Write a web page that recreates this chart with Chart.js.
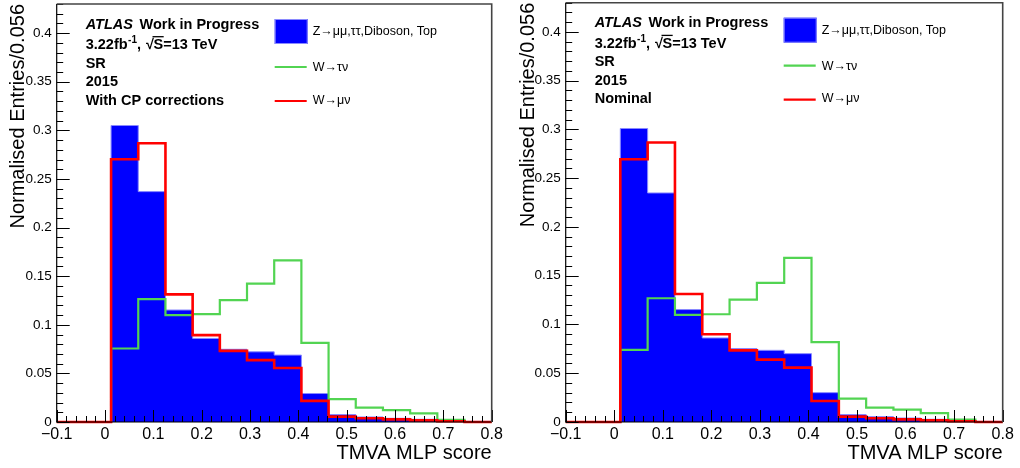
<!DOCTYPE html>
<html><head><meta charset="utf-8">
<script src="https://cdn.jsdelivr.net/npm/chart.js@4.4.1/dist/chart.umd.min.js"></script>
<style>
html,body{margin:0;padding:0;background:#fff;}
#wrap{position:relative;width:1020px;height:468px;overflow:hidden;background:#fff}
.pane{position:absolute;top:0;width:510px;height:468px}
canvas{display:block}
</style></head><body>
<div id="wrap">
  <div class="pane" style="left:0"><canvas id="c1" width="510" height="468"></canvas></div>
  <div class="pane" style="left:510px"><canvas id="c2" width="510" height="468"></canvas></div>
</div>
<script>
// ---------- data ----------
const binEdges = [-0.1,-0.04375,0.0125,0.06875,0.125,0.18125,0.2375,0.29375,0.35,0.40625,0.4625,0.51875,0.575,0.63125,0.6875,0.74375,0.8];
const xTickValues = [-0.1,0,0.1,0.2,0.3,0.4,0.5,0.6,0.7,0.8];
const xTickLabels = ['\u22120.1','0','0.1','0.2','0.3','0.4','0.5','0.6','0.7','0.8'];
const yTickValues = [0,0.05,0.1,0.15,0.2,0.25,0.3,0.35,0.4];
const yTickLabels = ['0','0.05','0.1','0.15','0.2','0.25','0.3','0.35','0.4'];
const seriesLabels = ['Z\u2192\u03bc\u03bc,\u03c4\u03c4,Diboson, Top','W\u2192\u03c4\u03bd','W\u2192\u03bc\u03bd'];

// left panel: With CP corrections
const bkgCP    = [0,0,0.305,0.2370,0.1152,0.0860,0.0748,0.0722,0.0688,0.0293,0.0077,0.0052,0.0038,0.0028,0.0016,0.0006];
const wtaunuCP = [0,0,0.0756,0.1265,0.1100,0.1110,0.1254,0.1423,0.1663,0.0814,0.0236,0.0147,0.0123,0.0089,0.0023,0];
const wmunuCP  = [0,0,0.2703,0.2868,0.1313,0.0894,0.0732,0.0636,0.0556,0.0217,0.0055,0.0038,0.0027,0.0017,0.0007,0];

// right panel: Nominal
const bkgNom    = [0,0,0.3010,0.2349,0.1153,0.0862,0.0753,0.0735,0.0701,0.0301,0.0076,0.0055,0.0041,0.0028,0.0015,0.0006];
const wtaunuNom = [0,0,0.0739,0.1269,0.1098,0.1105,0.1255,0.1427,0.1683,0.0820,0.0240,0.0147,0.0127,0.0092,0.0025,0];
const wmunuNom  = [0,0,0.2695,0.2866,0.1313,0.0900,0.0735,0.0640,0.0558,0.0216,0.0055,0.0038,0.0027,0.0017,0.0007,0];

// ---------- helpers ----------
const FAM = '"Liberation Sans", Arial, Helvetica, sans-serif';
Chart.defaults.font.family = FAM;
function toSteps(vals){
  return binEdges.map((e,i)=>({x:e, y: vals[Math.min(i, vals.length-1)]}));
}

const rootFrame = {
  id:'rootFrame',
  afterDatasetsDraw(chart){
    const {ctx, chartArea:a, scales:{x,y}} = chart;
    ctx.save();
    ctx.strokeStyle = '#000';
    ctx.lineWidth = 1;
    ctx.beginPath();
    for (let i=0;i<=45;i++){
      const v = -0.1 + i*0.02;
      const px = Math.round(x.getPixelForValue(v)) + 0.5;
      const len = (i%5===0) ? 12 : 6;
      ctx.moveTo(px, a.bottom); ctx.lineTo(px, a.bottom - len);
    }
    for (let i=0;i<=43;i++){
      const v = i*0.01;
      const py = Math.round(y.getPixelForValue(v)) + 0.5;
      const len = (i%5===0) ? 13 : 6.5;
      ctx.moveTo(a.left, py); ctx.lineTo(a.left + len, py);
    }
    ctx.stroke();
    ctx.lineWidth = 1.2;
    ctx.beginPath();
    ctx.moveTo(a.left, a.top); ctx.lineTo(a.left, a.bottom);
    ctx.moveTo(a.left, a.bottom); ctx.lineTo(a.right, a.bottom);
    ctx.stroke();
    ctx.strokeStyle = '#444';
    ctx.lineWidth = 1.6;
    ctx.beginPath();
    ctx.moveTo(a.left, a.top); ctx.lineTo(a.right, a.top); ctx.lineTo(a.right, a.bottom);
    ctx.stroke();
    ctx.restore();
  }
};

const rootText = {
  id:'rootText',
  afterDraw(chart, args, opts){
    const {ctx, chartArea:a} = chart;
    const ds = chart.data.datasets;
    const x0 = a.left + 29;
    const t = a.top;
    ctx.save();
    ctx.fillStyle = '#000';
    ctx.textBaseline = 'alphabetic';
    ctx.textAlign = 'left';
    const B = 'bold 14.5px ' + FAM;
    ctx.font = 'italic bold 14.5px ' + FAM;
    ctx.fillText('ATLAS', x0, t + 24.5);
    let w = ctx.measureText('ATLAS').width;
    ctx.font = B;
    ctx.fillText('Work in Progress', x0 + w + 6.5, t + 24.5);
    let yb = t + 45;
    let cx = x0;
    ctx.font = B; ctx.fillText('3.22fb', cx, yb); cx += ctx.measureText('3.22fb').width + 0.5;
    ctx.font = 'bold 10px ' + FAM; ctx.fillText('-1', cx, yb - 6); cx += ctx.measureText('-1').width;
    ctx.font = B; ctx.fillText(', ', cx, yb); cx += ctx.measureText(', ').width + 1;
    ctx.fillText('\u221a', cx, yb); const sqw = ctx.measureText('\u221a').width; cx += sqw - 0.5;
    const sx = cx;
    ctx.fillText('S', cx, yb); cx += ctx.measureText('S').width;
    ctx.strokeStyle = '#000'; ctx.lineWidth = 1.3;
    ctx.beginPath(); ctx.moveTo(sx - 1, yb - 12.3); ctx.lineTo(cx + 0.5, yb - 12.3); ctx.stroke();
    ctx.fillText('=13 TeV', cx, yb);
    ctx.fillText('SR', x0, t + 63.5);
    ctx.fillText('2015', x0, t + 82);
    ctx.fillText(opts.note, x0, t + 100.5);
    const lx = a.left + 218, lw = 33, tx = a.left + 256;
    ctx.fillStyle = ds[0].backgroundColor;
    ctx.fillRect(lx, t + 15, lw, 25);
    ctx.strokeStyle = ds[0].borderColor; ctx.lineWidth = 1;
    ctx.strokeRect(lx + 0.5, t + 15.5, lw - 1, 24);
    ctx.lineWidth = 2.2;
    ctx.strokeStyle = ds[1].borderColor;
    ctx.beginPath(); ctx.moveTo(lx, t + 63); ctx.lineTo(lx + lw - 1, t + 63); ctx.stroke();
    ctx.strokeStyle = ds[2].borderColor;
    ctx.beginPath(); ctx.moveTo(lx, t + 97); ctx.lineTo(lx + lw - 1, t + 97); ctx.stroke();
    ctx.fillStyle = '#000';
    ctx.font = '12.5px ' + FAM;
    ctx.fillText(ds[0].label, tx, t + 31);
    ctx.fillText(ds[1].label, tx, t + 67);
    ctx.fillText(ds[2].label, tx, t + 99.5);
    ctx.restore();
  }
};

function makeChart(id, bkg, wtaunu, wmunu, note, top, right, yWidth){
  return new Chart(document.getElementById(id), {
    type:'line',
    data:{datasets:[
      {label: seriesLabels[0], data: toSteps(bkg), stepped:'before', fill:'origin',
       backgroundColor:'#0000ff', borderColor:'#8a8aff', borderWidth:1, pointRadius:0, order:3, clip:false},
      {label: seriesLabels[1], data: toSteps(wtaunu), stepped:'before', fill:false,
       borderColor:'#52d452', borderWidth:2.2, pointRadius:0, order:2, clip:false},
      {label: seriesLabels[2], data: toSteps(wmunu), stepped:'before', fill:false,
       borderColor:'#ff0000', borderWidth:2.6, pointRadius:0, order:1, clip:false}
    ]},
    options:{
      responsive:false, animation:false, devicePixelRatio:1,
      layout:{padding:{top:top, right:right, left:0, bottom:0}},
      plugins:{legend:{display:false}, tooltip:{enabled:false}, rootText:{note:note}},
      scales:{
        x:{type:'linear', min:-0.1, max:0.8,
           afterBuildTicks: s => { s.ticks = xTickValues.map(v=>({value:v})); },
           ticks:{callback:(v,i)=>xTickLabels[i], font:{size:16}, color:'#000', padding:3, maxRotation:0, minRotation:0, autoSkip:false},
           grid:{display:false, drawTicks:false}, border:{display:false},
           title:{display:true, text:'TMVA MLP score', align:'end', color:'#000', font:{size:20}, padding:{top:0, bottom:3}},
           afterFit: s => { s.height = 46; s.paddingLeft = 0; s.paddingRight = 0; }},
        y:{type:'linear', min:0, max:0.43,
           afterBuildTicks: s => { s.ticks = yTickValues.map(v=>({value:v})); },
           ticks:{callback:(v,i)=>yTickLabels[i], font:{size:13.5}, color:'#000', padding:5, autoSkip:false},
           grid:{display:false, drawTicks:false}, border:{display:false},
           title:{display:true, text:'Normalised Entries/0.056', align:'end', color:'#000', font:{size:20}, padding:{top:6.5, bottom:0}},
           afterFit: s => { s.width = yWidth; s.paddingTop = 0; s.paddingBottom = 0; }}
      }
    },
    plugins:[rootFrame, rootText]
  });
}

makeChart('c1', bkgCP, wtaunuCP, wmunuCP, 'With CP corrections', 4, 18.3, 56.7);
makeChart('c2', bkgNom, wtaunuNom, wmunuNom, 'Nominal', 2.7, 17.3, 55.7);
</script>
</body></html>
